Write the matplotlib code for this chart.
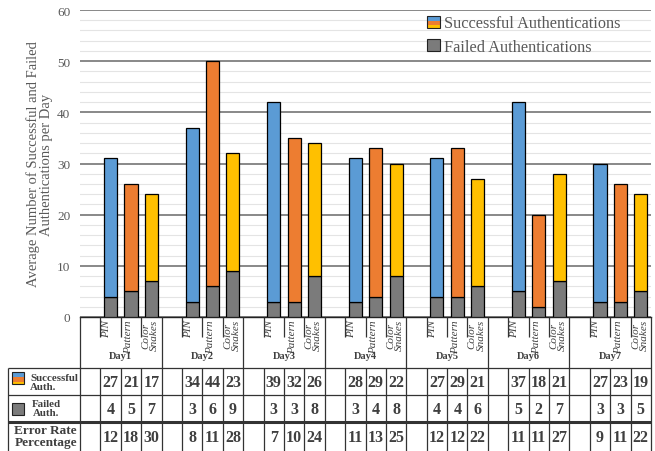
import matplotlib
matplotlib.use("Agg")
import matplotlib.pyplot as plt
from matplotlib.patches import Rectangle
from matplotlib.legend_handler import HandlerBase

# ---- data -------------------------------------------------------------
days = ["Day1", "Day2", "Day3", "Day4", "Day5", "Day6", "Day7"]
methods = ["PIN", "Pattern", "Color\nSnakes"]
successful = [[27, 21, 17], [34, 44, 23], [39, 32, 26], [28, 29, 22],
              [27, 29, 21], [37, 18, 21], [27, 23, 19]]
failed = [[4, 5, 7], [3, 6, 9], [3, 3, 8], [3, 4, 8],
          [4, 4, 6], [5, 2, 7], [3, 3, 5]]
error_rate = [[12, 18, 30], [8, 11, 28], [7, 10, 24], [11, 13, 25],
              [12, 12, 22], [11, 11, 27], [9, 11, 22]]
y_ticks = [0, 10, 20, 30, 40, 50, 60]

# ---- style ------------------------------------------------------------
method_colors = ["#5B9BD5", "#ED7D31", "#FFC000"]
failed_color = "#7B7B7B"
grey_text = "#595959"
dark_text = "#3F3F3F"
serif = ["Liberation Serif", "DejaVu Serif"]
plt.rcParams["font.family"] = serif

W, H = 655, 452
fig = plt.figure(figsize=(W / 100, H / 100), dpi=100)

# plot area in pixels
PL, PR, PT, PB = 80, 651, 11, 318
ax = fig.add_axes([PL / W, 1 - PB / H, (PR - PL) / W, (PB - PT) / H])
n_slots = 4 * len(days)
ax.set_xlim(-0.5, n_slots - 0.5)
ax.set_ylim(0, 60)

bar_w = 0.64
for d in range(len(days)):
    for m in range(len(methods)):
        x = 4 * d + 1 + m
        ax.bar(x, failed[d][m], width=bar_w, color=failed_color,
               edgecolor="black", linewidth=0.9, zorder=3)
        ax.bar(x, successful[d][m], bottom=failed[d][m], width=bar_w,
               color=method_colors[m], edgecolor="black", linewidth=0.9,
               zorder=3)

ax.set_yticks(y_ticks)
ax.set_yticks(range(0, 61, 2), minor=True)
ax.set_xticks([])
ax.grid(which="major", axis="y", color="#7F7F7F", linewidth=1.3, zorder=1)
ax.grid(which="minor", axis="y", color="#E4E4E4", linewidth=0.8, zorder=0)
ax.set_axisbelow(True)
ax.tick_params(axis="y", which="both", length=0, pad=7,
               labelsize=9.5, labelcolor=grey_text)
for s in ("top", "right", "left"):
    ax.spines[s].set_visible(False)
ax.spines["bottom"].set_color("#222222")
ax.spines["bottom"].set_linewidth(1.0)

ax.set_ylabel("Average Number of Successful and Failed\nAuthentications per Day",
              fontsize=10.5, color=grey_text, linespacing=1.0)
ax.yaxis.set_label_coords((53 - PL) / (PR - PL), 0.5)


# ---- legend -----------------------------------------------------------
class StripeHandler(HandlerBase):
    def __init__(self, colors, fracs):
        super().__init__()
        self.colors = colors
        self.fracs = fracs

    def create_artists(self, legend, orig_handle, xdescent, ydescent,
                       width, height, fontsize, trans):
        arts = []
        x0, y0 = -xdescent, -ydescent
        top = y0 + height
        for c, f in zip(self.colors, self.fracs):
            h = f * height
            arts.append(Rectangle((x0, top - h), width, h, facecolor=c,
                                  edgecolor="none", transform=trans))
            top -= h
        arts.append(Rectangle((x0, y0), width, height, facecolor="none",
                              edgecolor="#222222", linewidth=0.8,
                              transform=trans))
        return arts


succ_proxy = Rectangle((0, 0), 1, 1)
fail_proxy = Rectangle((0, 0), 1, 1, facecolor=failed_color,
                       edgecolor="#222222", linewidth=0.8)
stripes = StripeHandler(method_colors, [0.45, 0.35, 0.2])
leg = ax.legend([succ_proxy, fail_proxy],
                ["Successful Authentications", "Failed Authentications"],
                handler_map={succ_proxy: stripes},
                loc="upper left", bbox_to_anchor=(416 / W, 1 - 5 / H),
                bbox_transform=fig.transFigure, frameon=False,
                fontsize=11.7, labelcolor=grey_text,
                handlelength=0.75, handleheight=0.75, handletextpad=0.25,
                labelspacing=0.45, borderpad=0.2)

# ---- data table below the plot ----------------------------------------
slot_px = (PR - PL) / n_slots
tab = fig.add_axes([0, 0, PR / W, (H - PB) / H])
tab.set_xlim(-0.5 - PL / slot_px, n_slots - 0.5)
tab.set_ylim(H, PB)
tab.axis("off")


def px(x):
    """horizontal pixel position -> table data coordinate"""
    return -0.5 + (x - PL) / slot_px


line_kw = dict(color="#333333", linewidth=0.9, solid_capstyle="butt",
               clip_on=False)
row_top, row_a, row_b = 369, 396, 423
x_left = px(8)
x_right = n_slots - 0.5

# day boundaries run the full height of the table
for k in range(len(days) + 1):
    tab.plot([4 * k - 0.5] * 2, [PB, H], **line_kw)
# inner cell borders in the value rows, short dividers in the label row
for d in range(len(days)):
    for j in range(3):
        xb = 4 * d + 0.5 + j
        tab.plot([xb, xb], [row_top, H], **line_kw)
        tab.plot([xb, xb], [PB, PB + 20], **line_kw)
# header column border and row lines
tab.plot([x_left, x_left], [row_top, H], **line_kw)
tab.plot([x_left, x_right], [row_top, row_top], **line_kw)
tab.plot([x_left, x_right], [row_a, row_a], **line_kw)
tab.plot([x_left, x_right], [row_b, row_b], color="#333333", linewidth=2.2,
         solid_capstyle="butt", clip_on=False)

# category labels
label_shift = [-0.2, -0.1, -0.05]
for d, day in enumerate(days):
    for m, name in enumerate(methods):
        xm = 4 * d + 1 + m + label_shift[m]
        tab.text(xm, PB + 2, name, rotation=90, ha="center", va="top",
                 fontsize=8, style="italic", color=dark_text,
                 linespacing=0.95)
    tab.text(4 * d + 1.5, 357, day, ha="center", va="center",
             fontsize=7.5, fontweight="bold", color=dark_text)

# values
num_kw = dict(ha="center", va="center", fontsize=11.5, fontweight="bold",
              color=dark_text)
for d in range(len(days)):
    for m in range(len(methods)):
        x = 4 * d + 1 + m
        tab.text(x, 383, str(successful[d][m]), **num_kw)
        tab.text(x, 410, str(failed[d][m]), **num_kw)
        tab.text(x, 438, str(error_rate[d][m]), **num_kw)

# row headers with colour keys
key_w = (24 - 12) / slot_px
top = 373
for c, f in zip(method_colors, [0.45, 0.35, 0.2]):
    h = 12 * f
    tab.add_patch(Rectangle((px(12), top), key_w, h, facecolor=c,
                            edgecolor="none", clip_on=False))
    top += h
tab.add_patch(Rectangle((px(12), 373), key_w, 12, facecolor="none",
                        edgecolor="#222222", linewidth=0.8, clip_on=False))
tab.add_patch(Rectangle((px(12), 404), key_w, 12, facecolor=failed_color,
                        edgecolor="#222222", linewidth=0.8, clip_on=False))

hdr_kw = dict(fontsize=7.8, fontweight="bold", color=dark_text,
              linespacing=1.05)
tab.text(px(30), 383, "Successful\nAuth.", ha="left", va="center",
         multialignment="left", **hdr_kw)
tab.text(px(46), 409, "Failed\nAuth.", ha="center", va="center",
         multialignment="center", **hdr_kw)
tab.text(px(77), 437, "Error Rate\nPercentage", ha="right", va="center",
         multialignment="right", fontsize=9.5, fontweight="bold",
         color=dark_text, linespacing=0.95)

fig.savefig("out.png", dpi=100)
